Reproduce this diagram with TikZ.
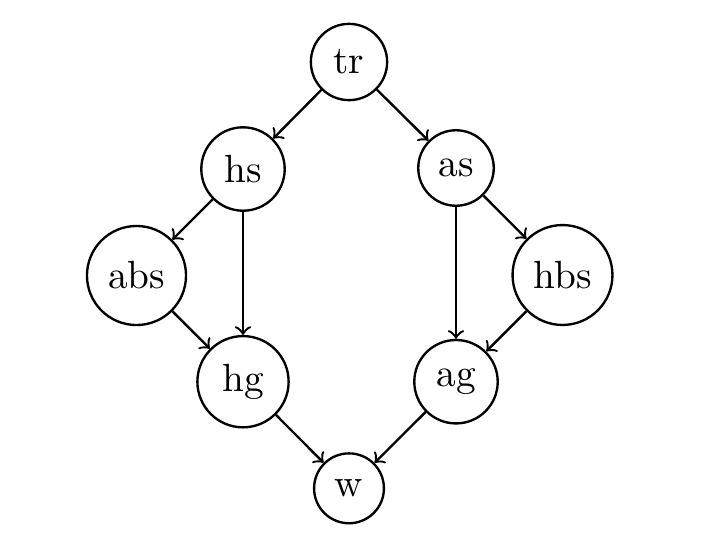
\documentclass[tikz,border=0pt]{standalone}
\begin{document}
\begin{tikzpicture}[x=0.2544pt,y=-0.2544pt,
  vtx/.style={circle,draw,semithick},
  edge/.style={->,semithick}]
\useasboundingbox (0,0) rectangle (706,554);
\node[vtx] (tr) at (349,62) {tr};
\node[vtx] (hs) at (243,169) {hs};
\node[vtx] (as) at (456,168) {as};
\node[vtx] (abs) at (136.5,275.5) {abs};
\node[vtx] (hbs) at (562.5,275) {hbs};
\node[vtx] (hg) at (243,381.7) {hg};
\node[vtx] (ag) at (456,381.7) {ag};
\node[vtx] (w) at (349,488.3) {w};
\draw[edge] (tr) -- (hs);
\draw[edge] (tr) -- (as);
\draw[edge] (hs) -- (abs);
\draw[edge] (hs) -- (hg);
\draw[edge] (abs) -- (hg);
\draw[edge] (as) -- (ag);
\draw[edge] (as) -- (hbs);
\draw[edge] (hbs) -- (ag);
\draw[edge] (hg) -- (w);
\draw[edge] (ag) -- (w);
\end{tikzpicture}
\end{document}
